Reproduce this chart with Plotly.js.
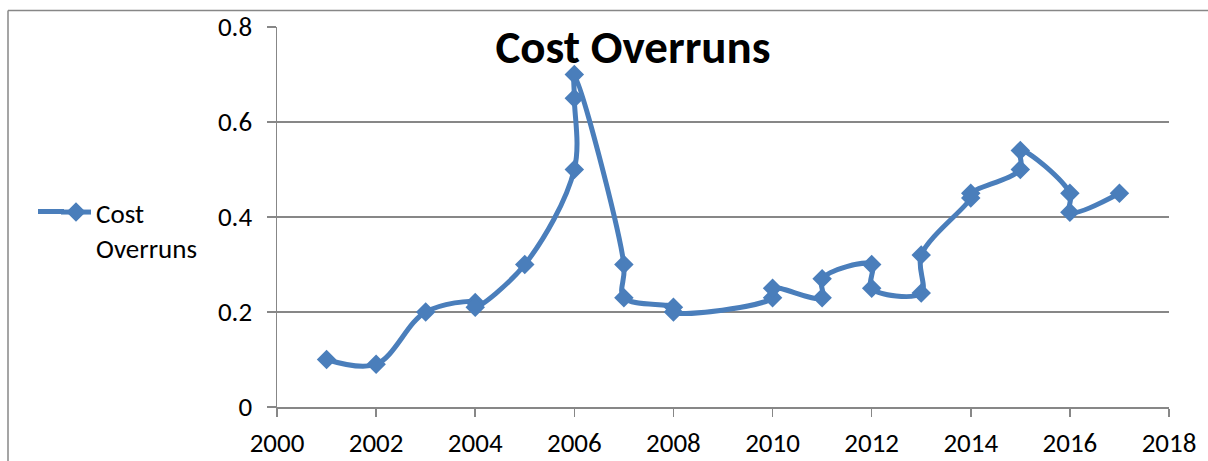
<!DOCTYPE html>
<html>
<head>
<meta charset="utf-8">
<script src="https://cdn.plot.ly/plotly-3.0.1.min.js"></script>
<style>
  html, body { margin: 0; padding: 0; background: #ffffff; }
  #chart { width: 1208px; height: 461px; }
</style>
</head>
<body>
<div id="chart"></div>
<script>
// Cost overruns by year, in the order the points are joined
const years = [2001, 2002, 2003, 2004, 2004, 2005, 2006, 2006, 2006, 2007, 2007,
               2008, 2008, 2010, 2010, 2011, 2011, 2012, 2012, 2013, 2013,
               2014, 2014, 2015, 2015, 2016, 2016, 2017];
const overruns = [0.10, 0.09, 0.20, 0.22, 0.21, 0.30, 0.50, 0.65, 0.70, 0.30, 0.23,
                  0.21, 0.20, 0.23, 0.25, 0.23, 0.27, 0.30, 0.25, 0.24, 0.32,
                  0.44, 0.45, 0.50, 0.54, 0.45, 0.41, 0.45];
const seriesName = 'Cost<br>Overruns';
const chartTitle = 'Cost Overruns';
const xTicks = [2000, 2002, 2004, 2006, 2008, 2010, 2012, 2014, 2016, 2018];
const yTicks = [0, 0.2, 0.4, 0.6, 0.8];

const W = 1208, H = 461;
const margin = { l: 277, r: 39, t: 27, b: 54 };
const plotW = W - margin.l - margin.r;
const plotH = H - margin.t - margin.b;
// pixel -> paper helpers for the outer frame and legend placement
const px = x => (x - margin.l) / plotW;
const py = y => (H - margin.b - y) / plotH;

const blue = '#4A7EBB';
const grey = '#878787';
const font = 'Carlito, Lato, "Open Sans", sans-serif';
const labelSize = 27;

const trace = {
  x: years,
  y: overruns,
  type: 'scatter',
  mode: 'lines+markers',
  name: seriesName,
  line: { color: blue, width: 5, shape: 'spline', smoothing: 1 },
  marker: { symbol: 'diamond', size: 15, color: blue },
  hoverinfo: 'skip'
};

const layout = {
  width: W,
  height: H,
  margin: margin,
  paper_bgcolor: '#ffffff',
  plot_bgcolor: '#ffffff',
  font: { family: font, size: labelSize, color: '#000000' },
  title: {
    text: '<b>' + chartTitle + '</b>',
    font: { family: font, size: 47, color: '#000000' },
    xref: 'container', yref: 'container',
    x: 633 / W, xanchor: 'center',
    y: 1 - 47 / H, yanchor: 'middle'
  },
  showlegend: true,
  legend: {
    x: px(56), xanchor: 'left',
    y: py(188), yanchor: 'top',
    valign: 'top',
    bgcolor: 'rgba(0,0,0,0)',
    font: { family: font, size: labelSize, color: '#000000' }
  },
  xaxis: {
    range: [2000, 2018],
    tickmode: 'array',
    tickvals: xTicks,
    ticktext: xTicks.map(String),
    showgrid: false,
    zeroline: false,
    showline: true,
    linecolor: grey,
    linewidth: 1.5,
    ticks: 'outside',
    ticklen: 8,
    tickwidth: 1.5,
    tickcolor: grey,
    ticklabelstandoff: 3,
    tickfont: { family: font, size: labelSize, color: '#000000' },
    fixedrange: true
  },
  yaxis: {
    range: [0, 0.8],
    tickmode: 'array',
    tickvals: yTicks,
    ticktext: yTicks.map(v => String(v)),
    showgrid: true,
    gridcolor: grey,
    gridwidth: 1.5,
    zeroline: false,
    showline: true,
    linecolor: grey,
    linewidth: 1.5,
    ticks: 'outside',
    ticklen: 9,
    tickwidth: 1.5,
    tickcolor: grey,
    ticklabelstandoff: 9,
    tickfont: { family: font, size: labelSize, color: '#000000' },
    fixedrange: true
  },
  shapes: [
    // outer chart frame: top and left edges
    { type: 'line', xref: 'paper', yref: 'paper',
      x0: px(8), x1: px(W), y0: py(10.5), y1: py(10.5),
      line: { color: grey, width: 1.5 } },
    { type: 'line', xref: 'paper', yref: 'paper',
      x0: px(8), x1: px(8), y0: py(10.5), y1: py(H),
      line: { color: grey, width: 1.5 } },
    // longer lead-in for the legend's line symbol
    { type: 'line', xref: 'paper', yref: 'paper',
      x0: px(38), x1: px(64), y0: py(211.5), y1: py(211.5),
      line: { color: blue, width: 5 } }
  ]
};

Plotly.newPlot('chart', [trace], layout, { displayModeBar: false, staticPlot: true });
</script>
</body>
</html>
